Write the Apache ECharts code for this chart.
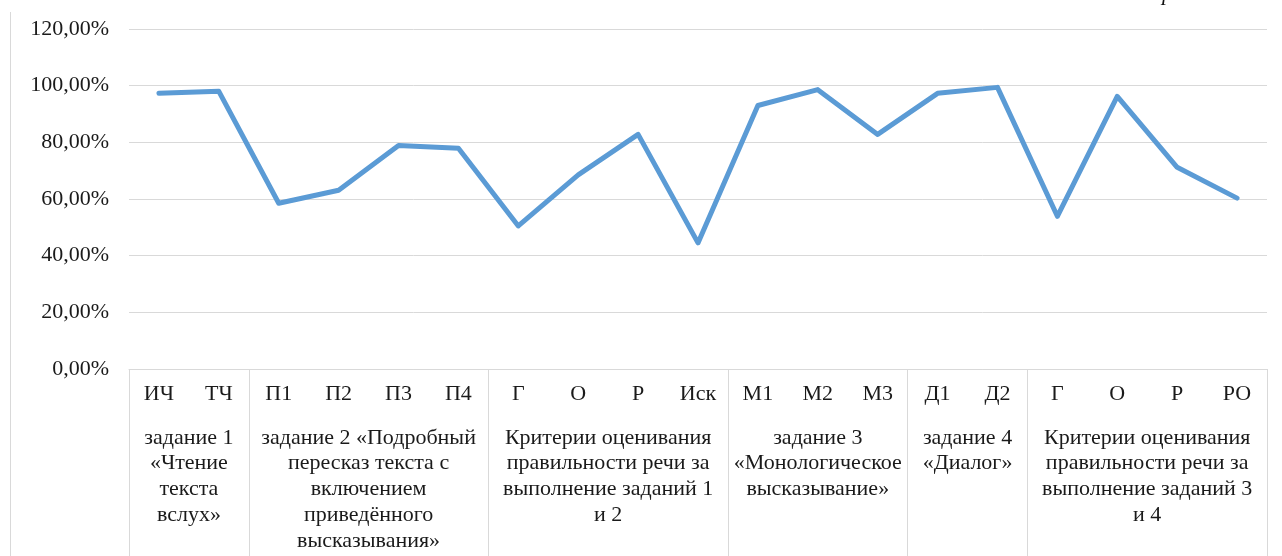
<!DOCTYPE html>
<html>
<head>
    <meta charset="utf-8">
    <script type="text/javascript" src="https://cdn.jsdelivr.net/npm/echarts@6/dist/echarts.min.js"></script>
    <style type="text/css">
        * {
            margin: 0;
            padding: 0;
        }
        body {
            background: #ffffff;
        }
        #container {
            width: 1282px;
            height: 556px;
        }
    </style>
</head>
<body>
<div id="container"></div>

<script type="text/javascript">

    //критерии (нижний уровень оси X)
    var categories = ['ИЧ', 'ТЧ', 'П1', 'П2', 'П3', 'П4', 'Г', 'О', 'Р', 'Иск',
        'М1', 'М2', 'М3', 'Д1', 'Д2', 'Г', 'О', 'Р', 'РО'];
    //доля выполнения
    var values = [0.973, 0.980, 0.585, 0.631, 0.789, 0.779, 0.505, 0.685, 0.828, 0.445,
        0.930, 0.986, 0.828, 0.973, 0.994, 0.539, 0.962, 0.712, 0.603];
    //группы (верхний уровень оси X)
    var groupNames = [
        'задание 1\n«Чтение\nтекста\nвслух»',
        'задание 2 «Подробный\nпересказ текста с\nвключением\nприведённого\nвысказывания»',
        'Критерии оценивания\nправильности речи за\nвыполнение заданий 1\nи 2',
        'задание 3\n«Монологическое\nвысказывание»',
        'задание 4\n«Диалог»',
        'Критерии оценивания\nправильности речи за\nвыполнение заданий 3\nи 4'
    ];
    var groupSizes = [2, 4, 4, 3, 2, 4];
    //метки оси Y
    var yTicks = [0, 0.2, 0.4, 0.6, 0.8, 1.0, 1.2];

    var fontName = '"Liberation Serif", "DejaVu Serif", serif';
    var fontSize = 22;
    var textColor = '#1a1a1a';
    var lineColor = '#5B9BD5';
    var gridColor = '#d9d9d9';

    //границы и центры групп
    var groupEdges = [0];
    var groupCenters = [];
    for (var i = 0; i < groupSizes.length; i++) {
        var start = groupEdges[groupEdges.length - 1];
        groupCenters.push(start + groupSizes[i] / 2);
        groupEdges.push(start + groupSizes[i]);
    }

    function formatPercent(v) {
        return (v * 100).toFixed(2).replace('.', ',') + '%';
    }

    var dom = document.getElementById('container');
    var myChart = echarts.init(dom, null, {renderer: 'canvas'});

    var option = {
        animation: false,
        backgroundColor: '#ffffff',
        grid: {
            left: 129,
            right: 15,
            top: 29,
            bottom: 187,
            containLabel: false
        },
        xAxis: [
            {
                type: 'category',
                data: categories,
                boundaryGap: true,
                position: 'bottom',
                axisLine: {
                    show: true,
                    lineStyle: {color: gridColor, width: 1}
                },
                axisTick: {show: false},
                axisLabel: {
                    interval: 0,
                    margin: 14,
                    color: textColor,
                    fontSize: fontSize,
                    fontFamily: fontName
                },
                splitLine: {show: false}
            },
            {
                //группы: разделители и подписи
                type: 'value',
                min: 0,
                max: categories.length,
                position: 'bottom',
                axisLine: {show: false},
                splitLine: {show: false},
                axisTick: {
                    show: true,
                    customValues: groupEdges,
                    length: 190,
                    lineStyle: {color: gridColor, width: 1}
                },
                axisLabel: {
                    show: true,
                    customValues: groupCenters,
                    margin: 56,
                    lineHeight: 25.8,
                    color: textColor,
                    fontSize: fontSize,
                    fontFamily: fontName,
                    align: 'center',
                    formatter: function (v) {
                        for (var k = 0; k < groupCenters.length; k++) {
                            if (Math.abs(groupCenters[k] - v) < 1e-6) {
                                return groupNames[k];
                            }
                        }
                        return '';
                    }
                }
            }
        ],
        yAxis: {
            type: 'value',
            min: yTicks[0],
            max: yTicks[yTicks.length - 1],
            interval: 0.2,
            axisLine: {show: false},
            axisTick: {show: false},
            splitLine: {
                show: true,
                lineStyle: {color: gridColor, width: 1}
            },
            axisLabel: {
                margin: 20,
                color: textColor,
                fontSize: fontSize,
                fontFamily: fontName,
                formatter: formatPercent
            }
        },
        graphic: [
            {//рамка слева
                type: 'line',
                shape: {x1: 10.5, y1: 12, x2: 10.5, y2: 556},
                style: {stroke: gridColor, lineWidth: 1},
                silent: true
            },
            {//обрезанный символ сверху справа
                type: 'text',
                left: 1162,
                top: -17,
                style: {
                    text: 'р',
                    fontSize: 22,
                    fontStyle: 'italic',
                    fontFamily: fontName,
                    fill: '#111'
                },
                silent: true
            }
        ],
        series: [
            {
                type: 'line',
                xAxisIndex: 0,
                yAxisIndex: 0,
                data: values,
                symbol: 'none',
                smooth: false,
                lineStyle: {
                    color: lineColor,
                    width: 5,
                    join: 'round',
                    cap: 'round'
                }
            }
        ]
    };

    myChart.setOption(option, true);

</script>
</body>
</html>
